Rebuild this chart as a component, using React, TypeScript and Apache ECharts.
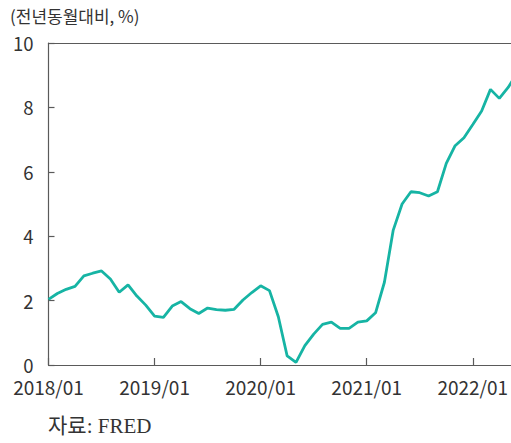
import React, { useEffect, useRef } from "react";
import * as echarts from "echarts";

const months: string[] = [];
for (let y = 2018; y <= 2022; y++) {
  for (let m = 1; m <= 12; m++) {
    if (y === 2022 && m > 6) break;
    months.push(`${y}/${String(m).padStart(2, "0")}`);
  }
}

const cpiYoY2018 = [2.04, 2.22, 2.35, 2.44, 2.77, 2.85, 2.92, 2.67, 2.26, 2.49, 2.14, 1.86];
const cpiYoY2019 = [1.52, 1.48, 1.83, 1.97, 1.75, 1.6, 1.77, 1.72, 1.7, 1.73, 2.02, 2.25];
const cpiYoY2020 = [2.46, 2.31, 1.5, 0.28, 0.08, 0.6, 0.96, 1.26, 1.33, 1.14, 1.14, 1.33];
const cpiYoY2021 = [1.37, 1.62, 2.57, 4.19, 5.0, 5.38, 5.35, 5.25, 5.38, 6.26, 6.81, 7.06];
const cpiYoY2022 = [7.47, 7.89, 8.56, 8.28, 8.62, 9.06];

const cpiValues = [...cpiYoY2018, ...cpiYoY2019, ...cpiYoY2020, ...cpiYoY2021, ...cpiYoY2022];

const yTicks = [0, 2, 4, 6, 8, 10];
const titleText = "(전년동월대비, %)";
const sourceText = "자료: FRED";

export default function App() {
  const ref = useRef<HTMLDivElement>(null);
  useEffect(() => {
    if (!ref.current) return;
    const chart = echarts.init(ref.current, null, { renderer: "svg" });
    const axisColor = "#5a5a5a";
    const textColor = "#333";
    const font = "'Noto Sans CJK KR', 'Noto Sans', sans-serif";
    chart.setOption({
      animation: false,
      backgroundColor: "#fff",
      title: {
        text: titleText,
        left: 5,
        top: 2,
        textStyle: { fontSize: 17, fontWeight: "normal", color: textColor, fontFamily: font },
      },
      grid: { left: 48.5, right: 0, top: 43, bottom: 78, containLabel: false },
      xAxis: [
        {
          type: "category",
          data: months,
          boundaryGap: false,
          axisLine: { show: true, lineStyle: { color: axisColor, width: 1.2 } },
          axisTick: {
            show: true,
            inside: true,
            length: 7,
            interval: (i: number) => i % 12 === 0,
            lineStyle: { color: axisColor, width: 1.2 },
          },
          axisLabel: {
            interval: (i: number) => i % 12 === 0,
            color: textColor,
            fontSize: 19,
            lineHeight: 19,
            fontFamily: font,
            margin: 12,
          },
          splitLine: { show: false },
        },
        {
          type: "category",
          data: months,
          position: "top",
          boundaryGap: false,
          axisLine: { show: true, lineStyle: { color: axisColor, width: 1.2 } },
          axisTick: { show: false },
          axisLabel: { show: false },
          splitLine: { show: false },
        },
      ],
      yAxis: {
        type: "value",
        min: yTicks[0],
        max: yTicks[yTicks.length - 1],
        interval: 2,
        axisLine: { show: true, lineStyle: { color: axisColor, width: 1.2 } },
        axisTick: { show: true, inside: true, length: 6, lineStyle: { color: axisColor, width: 1.2 } },
        axisLabel: { color: textColor, fontSize: 18.5, lineHeight: 18, fontFamily: font, margin: 15 },
        splitLine: { show: false },
      },
      series: [
        {
          type: "line",
          data: cpiValues,
          xAxisIndex: 0,
          symbol: "none",
          lineStyle: { color: "#16b4a4", width: 2.8 },
          z: 3,
        },
      ],
      graphic: [
        {
          type: "text",
          left: 48,
          top: 415,
          style: {
            text: sourceText,
            fontSize: 21,
            fill: textColor,
            fontFamily: "'Liberation Serif', 'Noto Sans CJK KR', serif",
          },
        },
      ],
    });
    return () => chart.dispose();
  }, []);
  return (
    <div style={{ width: 511, height: 443, position: "absolute", left: 0, top: 0, overflow: "hidden" }}>
      <div ref={ref} style={{ width: 517, height: 443 }} />
    </div>
  );
}
